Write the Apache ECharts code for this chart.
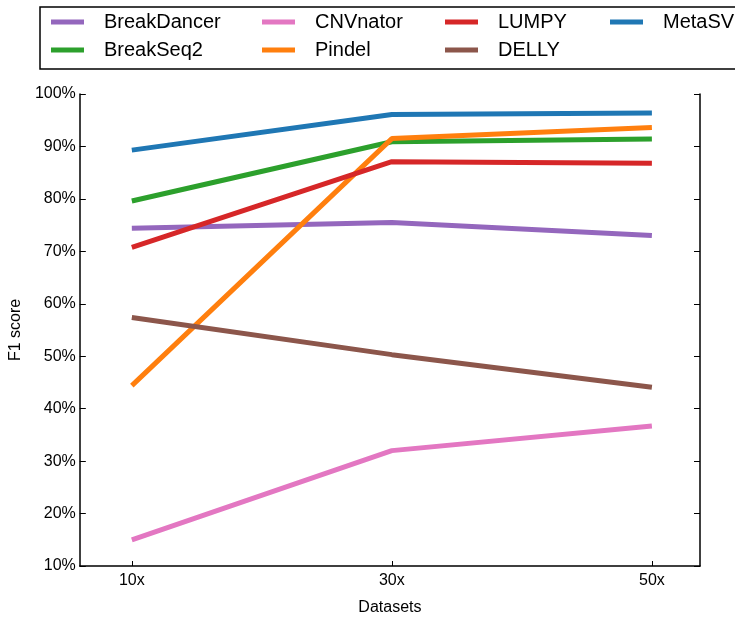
<!DOCTYPE html>
<html>
<head>
<meta charset="utf-8">
<script src="https://cdn.jsdelivr.net/npm/echarts@6/dist/echarts.min.js"></script>
<style>html,body{margin:0;padding:0;background:#fff;}#c{width:735px;height:621px;}</style>
</head>
<body>
<div id="c"></div>
<script>
var datasets = [10, 30, 50];
var datasetLabels = ['10x', '30x', '50x'];
var seriesNames = ['BreakDancer', 'BreakSeq2', 'CNVnator', 'Pindel', 'LUMPY', 'DELLY', 'MetaSV'];
var breakDancer = [74.4, 75.5, 73.0];
var breakSeq2 = [79.6, 90.9, 91.4];
var cnvnator = [15.0, 32.0, 36.7];
var pindel = [44.4, 91.5, 93.6];
var lumpy = [70.75, 87.1, 86.8];
var delly = [57.4, 50.3, 44.1];
var metaSV = [89.3, 96.1, 96.4];
var yTicks = [10, 20, 30, 40, 50, 60, 70, 80, 90, 100];

var values = [breakDancer, breakSeq2, cnvnator, pindel, lumpy, delly, metaSV];
var colors = ['#9467bd', '#2ca02c', '#e377c2', '#ff7f0e', '#d62728', '#8c564b', '#1f77b4'];
var legendPos = [[51, 12], [51, 40], [262, 12], [262, 40], [445, 12], [445, 40], [610, 12]];
var font = 'Liberation Sans, Arial, sans-serif';

var series = seriesNames.map(function (name, i) {
  return {
    name: name,
    type: 'line',
    data: datasets.map(function (x, j) { return [x, values[i][j]]; }),
    symbol: 'none',
    lineStyle: { width: 5, color: colors[i] },
    itemStyle: { color: colors[i] },
    emphasis: { disabled: true },
    z: 3
  };
});

var legends = seriesNames.map(function (name, i) {
  return {
    left: legendPos[i][0],
    top: legendPos[i][1],
    padding: 0,
    orient: 'horizontal',
    data: [{ name: name, icon: 'rect' }],
    itemWidth: 33,
    itemHeight: 5,
    selectedMode: false,
    textStyle: { fontFamily: font, fontSize: 20, color: '#000', padding: [0, 0, 0, 15] }
  };
});

var chart = echarts.init(document.getElementById('c'), null, { renderer: 'canvas' });
chart.setOption({
  animation: false,
  backgroundColor: '#fff',
  grid: { left: 79, right: 35, top: 94, bottom: 47, containLabel: false },
  legend: legends,
  graphic: [{
    type: 'rect',
    shape: { x: 40, y: 7, width: 720, height: 62 },
    style: { fill: 'none', stroke: '#000', lineWidth: 1.5 },
    z: 10
  }],
  xAxis: {
    type: 'value',
    min: 6,
    max: 53.7,
    name: 'Datasets',
    nameLocation: 'middle',
    nameGap: 34,
    nameTextStyle: { fontFamily: font, fontSize: 16, color: '#000' },
    splitLine: { show: false },
    axisLine: { show: true, lineStyle: { color: '#000', width: 1.5 } },
    axisTick: { show: true, inside: true, length: 5, customValues: datasets, lineStyle: { color: '#000', width: 1 } },
    axisLabel: {
      customValues: datasets,
      fontFamily: font, fontSize: 16, color: '#000', margin: 7,
      formatter: function (v) { return datasetLabels[datasets.indexOf(v)]; }
    }
  },
  yAxis: [{
    type: 'value',
    min: 10,
    max: 100,
    interval: 10,
    name: 'F1 score',
    nameLocation: 'middle',
    nameGap: 54,
    nameRotate: 90,
    nameTextStyle: { fontFamily: font, fontSize: 16, color: '#000' },
    splitLine: { show: false },
    axisLine: { show: true, lineStyle: { color: '#000', width: 1.5 } },
    axisTick: { show: true, inside: true, length: 6, lineStyle: { color: '#000', width: 1 } },
    axisLabel: {
      fontFamily: font, fontSize: 16, color: '#000', margin: 4,
      formatter: function (v) { return yTicks.indexOf(v) >= 0 ? v + '%' : ''; }
    }
  }, {
    type: 'value',
    position: 'right',
    min: 10,
    max: 100,
    interval: 10,
    splitLine: { show: false },
    axisLine: { show: true, lineStyle: { color: '#000', width: 1.5 } },
    axisTick: { show: true, inside: true, length: 6, lineStyle: { color: '#000', width: 1 } },
    axisLabel: { show: false }
  }],
  series: series
});
</script>
</body>
</html>
